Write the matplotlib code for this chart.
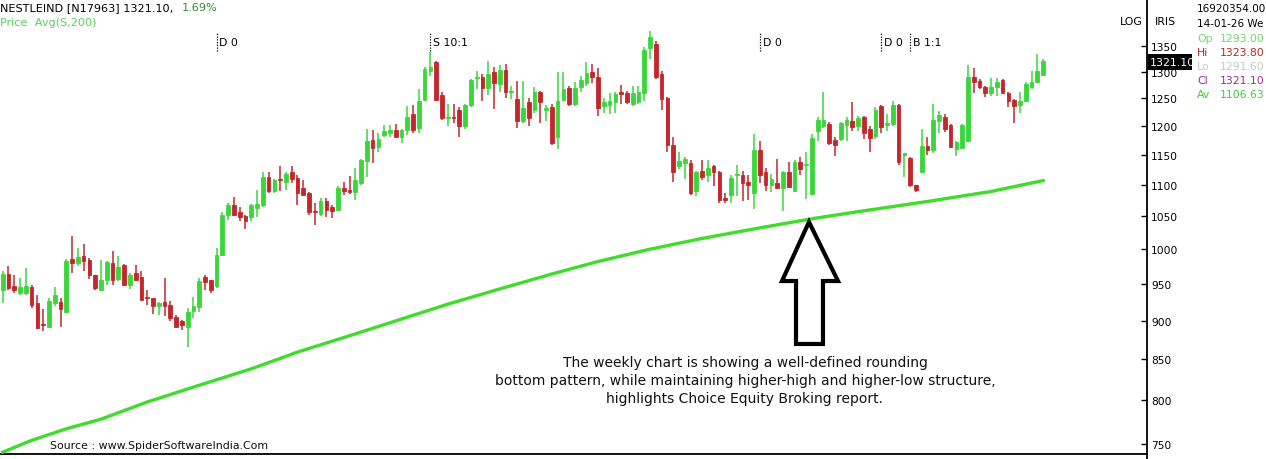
import numpy as np
import matplotlib.pyplot as plt
from matplotlib.patches import Polygon, Rectangle
from matplotlib.ticker import FixedLocator, NullLocator, FuncFormatter
import matplotlib.transforms as mtransforms

plt.rcParams['font.family'] = ['DejaVu Sans']

# weekly OHLC
opens = [941, 964, 947, 938, 938, 946, 923, 895, 892, 924, 925, 911, 986, 980, 990, 984, 962, 942, 955, 980,
         957, 977, 949, 966, 960, 932, 931, 920, 925, 921, 905, 899, 892, 913, 918, 960, 955, 947, 991, 1052,
         1067, 1056, 1050, 1048, 1062, 1067, 1113, 1089, 1110, 1105, 1121, 1111, 1095, 1086, 1058, 1054, 1073, 1065, 1059, 1094,
         1092, 1088, 1102, 1139, 1175, 1163, 1184, 1187, 1193, 1180, 1193, 1221, 1196, 1246, 1301, 1318, 1256, 1214, 1215, 1229,
         1199, 1237, 1288, 1290, 1269, 1299, 1276, 1303, 1261, 1248, 1208, 1242, 1229, 1262, 1229, 1234, 1180, 1247, 1269, 1240,
         1271, 1278, 1299, 1290, 1235, 1238, 1242, 1261, 1259, 1240, 1242, 1259, 1346, 1354, 1295, 1250, 1167, 1130, 1135, 1135,
         1089, 1123, 1115, 1131, 1121, 1078, 1083, 1115, 1116, 1105, 1086, 1157, 1120, 1099, 1102, 1095, 1121, 1089, 1137, 1133,
         1085, 1190, 1199, 1203, 1175, 1177, 1201, 1208, 1199, 1216, 1195, 1182, 1235, 1201, 1203, 1237, 1150, 1144, 1099, 1121,
         1165, 1158, 1208, 1216, 1201, 1160, 1162, 1174, 1290, 1282, 1271, 1259, 1271, 1284, 1259, 1246, 1237, 1244, 1271, 1280,
         1293]
highs = [969, 975, 962, 959, 972, 949, 934, 916, 931, 946, 931, 986, 1019, 1002, 1008, 987, 963, 984, 983, 998,
         990, 978, 966, 977, 969, 941, 931, 925, 958, 927, 907, 901, 917, 932, 958, 963, 956, 1002, 1056, 1070,
         1080, 1065, 1052, 1069, 1092, 1121, 1120, 1110, 1131, 1121, 1131, 1115, 1108, 1088, 1070, 1078, 1078, 1068, 1098, 1104,
         1114, 1128, 1143, 1195, 1192, 1188, 1201, 1201, 1203, 1195, 1236, 1238, 1266, 1309, 1338, 1320, 1262, 1240, 1240, 1233,
         1240, 1286, 1301, 1295, 1320, 1309, 1313, 1315, 1273, 1282, 1282, 1250, 1271, 1264, 1237, 1240, 1299, 1299, 1273, 1280,
         1292, 1318, 1315, 1307, 1250, 1259, 1262, 1275, 1264, 1273, 1273, 1348, 1380, 1360, 1301, 1252, 1180, 1155, 1146, 1140,
         1123, 1140, 1141, 1133, 1123, 1086, 1115, 1133, 1123, 1115, 1185, 1173, 1128, 1118, 1143, 1123, 1138, 1140, 1146, 1155,
         1185, 1215, 1262, 1206, 1180, 1206, 1215, 1243, 1218, 1218, 1199, 1233, 1237, 1221, 1245, 1240, 1153, 1146, 1100, 1194,
         1180, 1240, 1227, 1221, 1203, 1173, 1203, 1313, 1307, 1286, 1273, 1288, 1288, 1286, 1262, 1248, 1262, 1280, 1301, 1334,
         1323.8]
lows = [923, 941, 938, 934, 935, 917, 889, 886, 890, 920, 891, 910, 965, 975, 969, 957, 941, 941, 949, 949,
        954, 947, 943, 954, 928, 921, 909, 907, 906, 900, 891, 888, 866, 904, 912, 941, 938, 944, 990, 1044,
        1050, 1043, 1030, 1043, 1048, 1065, 1086, 1087, 1089, 1091, 1102, 1068, 1083, 1052, 1037, 1050, 1048, 1047, 1058, 1084,
        1085, 1076, 1100, 1112, 1135, 1155, 1180, 1180, 1180, 1170, 1184, 1187, 1188, 1244, 1291, 1244, 1211, 1199, 1205, 1181,
        1195, 1234, 1267, 1244, 1255, 1230, 1261, 1251, 1248, 1196, 1204, 1199, 1223, 1205, 1208, 1166, 1160, 1244, 1236, 1236,
        1262, 1273, 1278, 1218, 1223, 1221, 1223, 1240, 1240, 1236, 1240, 1244, 1324, 1286, 1228, 1155, 1105, 1125, 1110, 1084,
        1081, 1107, 1105, 1098, 1070, 1070, 1070, 1081, 1073, 1075, 1061, 1102, 1089, 1088, 1094, 1058, 1094, 1088, 1115, 1077,
        1083, 1174, 1196, 1166, 1148, 1174, 1173, 1190, 1190, 1177, 1155, 1177, 1187, 1190, 1199, 1133, 1113, 1096, 1088, 1121,
        1150, 1153, 1187, 1189, 1162, 1147, 1160, 1172, 1259, 1267, 1252, 1254, 1254, 1259, 1233, 1204, 1223, 1242, 1267, 1278,
        1291.6]
closes = [964, 944, 941, 946, 947, 921, 890, 894, 927, 935, 916, 983, 980, 988, 983, 963, 944, 955, 981, 955,
          974, 949, 963, 955, 928, 931, 920, 924, 920, 904, 892, 894, 912, 920, 954, 953, 941, 992, 1052, 1067,
          1052, 1048, 1043, 1067, 1069, 1112, 1089, 1108, 1107, 1118, 1110, 1086, 1084, 1056, 1056, 1073, 1059, 1058, 1095, 1089,
          1088, 1108, 1140, 1174, 1162, 1177, 1191, 1193, 1180, 1193, 1215, 1193, 1245, 1305, 1309, 1246, 1213, 1215, 1213, 1199,
          1237, 1283, 1290, 1268, 1295, 1278, 1303, 1261, 1264, 1208, 1232, 1214, 1262, 1242, 1231, 1170, 1245, 1266, 1240, 1269,
          1284, 1297, 1290, 1231, 1242, 1244, 1257, 1257, 1242, 1259, 1262, 1343, 1368, 1290, 1248, 1167, 1121, 1139, 1143, 1086,
          1121, 1113, 1128, 1121, 1075, 1075, 1111, 1118, 1103, 1099, 1157, 1116, 1099, 1110, 1095, 1121, 1097, 1138, 1125, 1134,
          1178, 1210, 1210, 1170, 1166, 1205, 1210, 1197, 1214, 1187, 1178, 1229, 1197, 1205, 1237, 1137, 1152, 1099, 1091, 1165,
          1157, 1210, 1219, 1194, 1163, 1172, 1201, 1290, 1280, 1271, 1259, 1271, 1280, 1259, 1244, 1235, 1244, 1276, 1280, 1301,
          1321.1]

# 200 week simple average, sampled along the line
ma_idx = [0, 5, 11, 17, 25, 34, 43, 51, 60, 69, 77, 86, 95, 103, 112, 121, 131, 140, 148, 160, 171, 180]
ma_vals = [741, 754, 767, 778, 798, 818, 838, 859, 880, 902, 922, 943, 964, 982, 1000, 1016,
           1032, 1046, 1057, 1073, 1089, 1106.63]

events = [(37, 'D 0'), (74, 'S 10:1'), (131, 'D 0'), (152, 'D 0'), (157, 'B 1:1')]
y_ticks = [750, 800, 850, 900, 950, 1000, 1050, 1100, 1150, 1200, 1250, 1300, 1350]

GREEN = '#3ad63a'
RED = '#c4262c'

W, H = 1266, 460
fig = plt.figure(figsize=(W / 100, H / 100), dpi=100)
ax = fig.add_axes([0, 5 / H, 1147 / W, 455 / H])

o = np.array(opens, dtype=float)
h = np.array(highs, dtype=float)
l = np.array(lows, dtype=float)
c = np.array(closes, dtype=float)
x = np.arange(len(o))
cols = np.where(c >= o, GREEN, RED)

ax.vlines(x, l, h, colors=cols, linewidth=1.1, zorder=2)
ax.bar(x, np.abs(c - o), bottom=np.minimum(o, c), width=0.64, color=cols,
       edgecolor=cols, linewidth=0.6, zorder=3)

ax.plot(ma_idx, ma_vals, color='#3fdc2c', linewidth=2.4, zorder=4,
        solid_joinstyle='round')

ax.set_yscale('log')
ax.set_xlim(-0.47, 197.98)
ax.set_ylim(739, 1447)
ax.yaxis.tick_right()
ax.yaxis.set_major_locator(FixedLocator(y_ticks))
ax.yaxis.set_minor_locator(NullLocator())
ax.yaxis.set_major_formatter(FuncFormatter(lambda v, p: f'{v:.0f}'))
ax.tick_params(axis='y', direction='in', length=4, width=1, pad=3, labelsize=7.7, colors='black')
ax.set_xticks([])
for s in ['top', 'left']:
    ax.spines[s].set_visible(False)
ax.spines['right'].set_linewidth(1.3)
ax.spines['bottom'].set_linewidth(1.3)
fig.add_artist(plt.Line2D([1147 / W, 1147 / W], [0, 5 / H], color='black', linewidth=1.3))

# event markers
trans = mtransforms.blended_transform_factory(ax.transData, ax.transAxes)
for i, lab in events:
    ax.plot([i, i], [0.8857, 0.9275], transform=trans, color='black',
            linestyle=(0, (1, 1.2)), linewidth=0.9)
    ax.text(i + 0.5, 0.906, lab, transform=trans, fontsize=7.8, va='center', ha='left')

# arrow pointing to the average
arrow = [(0.7053, 0.5099), (0.7306, 0.3802), (0.7175, 0.3802), (0.7175, 0.2418),
         (0.6940, 0.2418), (0.6940, 0.3802), (0.6818, 0.3802)]
ax.add_patch(Polygon(arrow, closed=True, transform=ax.transAxes, facecolor='white',
                     edgecolor='black', linewidth=3, joinstyle='miter', zorder=5))

note = ("The weekly chart is showing a well-defined rounding\n"
        "bottom pattern, while maintaining higher-high and higher-low structure,\n"
        "highlights Choice Equity Broking report.")
fig.text(745 / W, 1 - 381 / H, note, ha='center', va='center', fontsize=10,
         linespacing=1.36, color='#111111')

fig.text(50 / W, 1 - 446 / H, 'Source : www.SpiderSoftwareIndia.Com', fontsize=7.9,
         va='center', ha='left', color='#111111')

# header
fig.text(0, 1 - 8 / H, 'NESTLEIND [N17963] 1321.10,', fontsize=8.1, va='center', ha='left')
fig.text(182 / W, 1 - 8 / H, '1.69%', fontsize=8.1, va='center', ha='left', color='#2f8f2f')
fig.text(0, 1 - 23 / H, 'Price  Avg(S,200)', fontsize=8.1, va='center', ha='left', color='#5ccf5c')

fig.text(1143 / W, 1 - 22 / H, 'LOG', fontsize=7.8, va='center', ha='right')
fig.text(1155 / W, 1 - 22 / H, 'IRIS', fontsize=7.8, va='center', ha='left')

# last price box
box = Rectangle((1148 / W, 1 - 71 / H), 44 / W, 16 / H, transform=fig.transFigure,
                facecolor='black', edgecolor='none', zorder=10)
fig.add_artist(box)
t = fig.text(1150 / W, 1 - 63 / H, '1321.10', fontsize=7.9, va='center', ha='left',
             color='white', zorder=11)
t.set_clip_path(box)

# info panel
fig.text(1197 / W, 1 - 9 / H, '16920354.00', fontsize=7.5, va='center')
fig.text(1197 / W, 1 - 24 / H, '14-01-26 We', fontsize=7.5, va='center')
info = [('Op', '1293.00', '#6fd86f'), ('Hi', '1323.80', '#b02a2a'), ('Lo', '1291.60', '#c6c6c6'),
        ('Cl', '1321.10', '#a02aa0'), ('Av', '1106.63', '#44c944')]
for k, (lab, val, col) in enumerate(info):
    yy = 1 - (39 + 14 * k) / H
    fig.text(1197 / W, yy, lab, fontsize=7.8, va='center', color=col)
    fig.text(1220 / W, yy, val, fontsize=7.8, va='center', color=col)

fig.savefig('out.png', dpi=100)
